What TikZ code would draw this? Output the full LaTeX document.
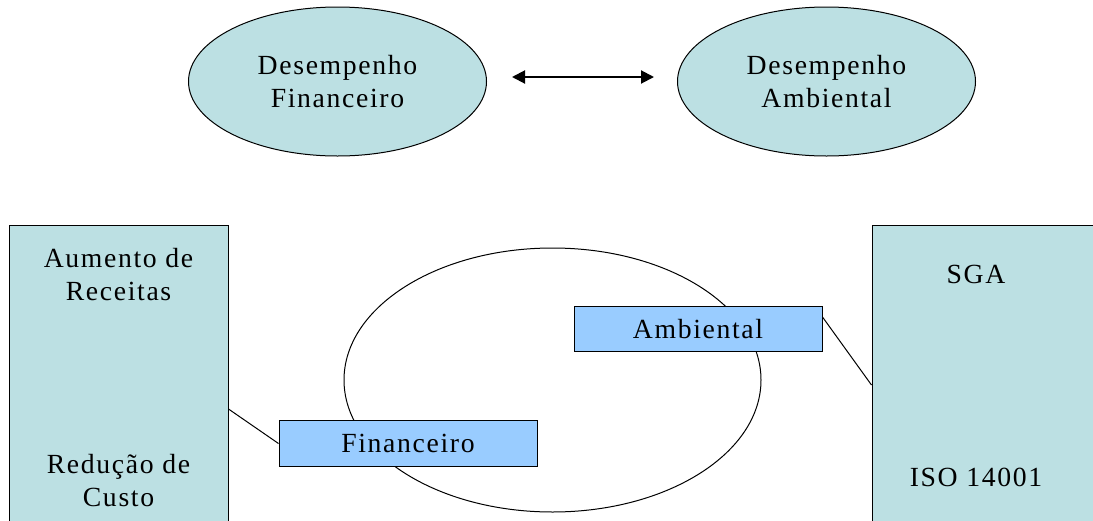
\documentclass[tikz,border=0pt]{standalone}
\usepackage{fontspec}
\setmainfont{Liberation Serif}[LetterSpace=6.0]
\usepackage{xcolor}
\usetikzlibrary{arrows.meta,shapes.geometric,positioning}
\definecolor{paleteal}{HTML}{BCE0E3}
\definecolor{skyblue}{HTML}{99CCFF}
\tikzset{
  oval/.style={ellipse,draw,line width=1pt,fill=paleteal,
    minimum width=298pt,minimum height=149pt,inner sep=0pt,align=center},
  column/.style={rectangle,draw,line width=1pt,fill=paleteal,inner sep=0pt},
  tag/.style={rectangle,draw,line width=1pt,fill=skyblue,
    minimum height=45.5pt,inner sep=0pt},
  txt/.style={align=center,inner sep=0pt},
  link/.style={line width=1pt},
  every node/.style={font=\fontsize{27.7}{32.5}\selectfont}
}
\tikzstyle{twoway} = [line width=2pt,
  {Triangle[length=13pt,width=13pt]}-{Triangle[length=13pt,width=13pt]}]

\begin{document}
\begin{tikzpicture}[x=1pt,y=-1pt]
  \useasboundingbox (0,0) rectangle (1093,520);
  \clip (0,0) rectangle (1093,520);
  % performance ovals
  \node[oval] (desfin) at (337.5,81.5) {Desempenho\\Financeiro};
  \node[oval] (desamb) at (826.5,81.5) {Desempenho\\Ambiental};
  \draw[twoway,shorten <=25pt,shorten >=23pt]
    ([yshift=4.5pt]desfin.east) -- ([yshift=4.5pt]desamb.west);
  % overlap ellipse and side columns
  \node[ellipse,draw,line width=1pt,minimum width=417pt,minimum height=264pt,
    inner sep=0pt] (core) at (552.5,380) {};
  \node[column,minimum width=219pt,minimum height=368pt] (leftcol) at (118.5,409) {};
  \node[column,minimum width=260pt,minimum height=320pt] (rightcol) at (1002,385) {};
  \node[txt] (aum) at (118.5,274.5) {Aumento de\\Receitas};
  \node[txt] (red) at (118.5,480.5) {Redução de\\Custo};
  \node[txt] (sga) at (976,274) {SGA};
  \node[txt] (iso) at (976,477.5) {ISO 14001};
  % tags on the ellipse
  \node[tag,minimum width=258pt] (finbox) at (408,443.5) {Financeiro};
  \node[tag,minimum width=248pt] (ambbox) at (698,329) {Ambiental};
  \draw[link] (leftcol.east) -- (finbox.west);
  \draw[link] ([yshift=12pt]ambbox.east) -- (rightcol.west);
\end{tikzpicture}
\end{document}
